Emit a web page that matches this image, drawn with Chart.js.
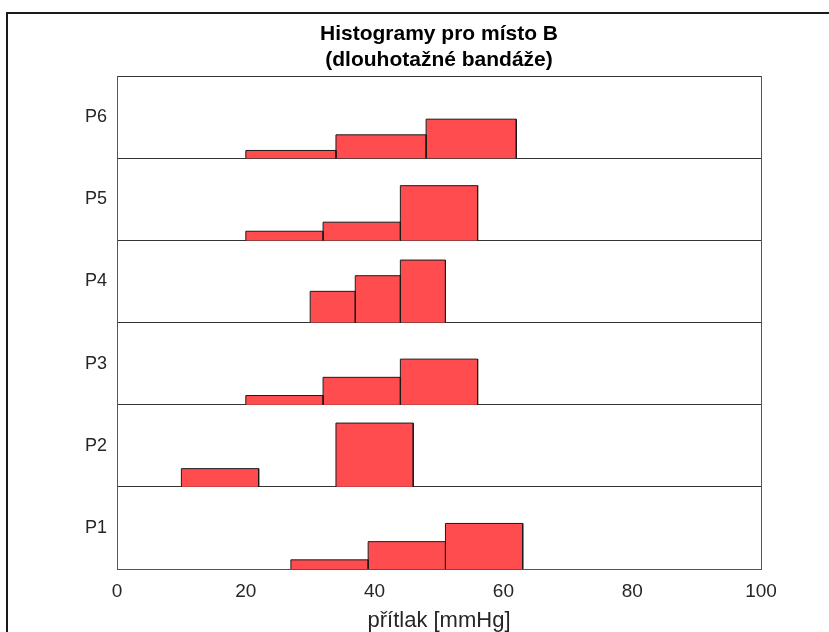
<!DOCTYPE html>
<html>
<head>
<meta charset="utf-8">
<script src="https://cdn.jsdelivr.net/npm/chart.js@4/dist/chart.umd.min.js"></script>
<style>
  html, body { margin: 0; padding: 0; background: #fff; overflow: hidden; }
  #frame { position: absolute; left: 6px; top: 12px; width: 900px; height: 700px; border: 2px solid #1a1a1a; }
  #wrap { position: absolute; left: 0; top: 0; width: 829px; height: 632px; }
</style>
</head>
<body>
<div id="frame"></div>
<div id="wrap"><canvas id="c" width="829" height="632"></canvas></div>
<script>
// Strip labels, bottom to top
const rowLabels = ['P1', 'P2', 'P3', 'P4', 'P5', 'P6'];

// Bin edges [mmHg] and probability densities for each strip
const edgesP1 = [27, 39, 51, 63];
const densP1  = [0.0093, 0.0278, 0.0463];
const edgesP2 = [10, 22, 34, 46];
const densP2  = [0.0185, 0, 0.0648];
const edgesP3 = [20, 32, 44, 56];
const densP3  = [0.0093, 0.0278, 0.0463];
const edgesP4 = [30, 37, 44, 51];
const densP4  = [0.0317, 0.0476, 0.0635];
const edgesP5 = [20, 32, 44, 56];
const densP5  = [0.0093, 0.0185, 0.0556];
const edgesP6 = [20, 34, 48, 62];
const densP6  = [0.0079, 0.0238, 0.0397];

const xTicks = [0, 20, 40, 60, 80, 100];

// Height of one strip in density units
const ROW = 0.0835;

const allEdges = [edgesP1, edgesP2, edgesP3, edgesP4, edgesP5, edgesP6];
const allDens  = [densP1, densP2, densP3, densP4, densP5, densP6];

const FILL = '#FF4D4F';
const EDGE = '#1a1a1a';

// One rectangle per bin (left edge, top, right edge), filled down to the strip baseline
const datasets = [];
allEdges.forEach((edges, r) => {
  const base = r * ROW;
  allDens[r].forEach((d, k) => {
    if (d <= 0) return;
    const x0 = edges[k], x1 = edges[k + 1], top = base + d;
    datasets.push({
      label: rowLabels[r] + ' ' + x0 + '-' + x1,
      data: [
        { x: x0, y: base }, { x: x0, y: top },
        { x: x1, y: top }, { x: x1, y: base }
      ],
      borderColor: EDGE,
      borderWidth: 1,
      backgroundColor: FILL,
      fill: { value: base },
      pointRadius: 0,
      tension: 0,
      borderJoinStyle: 'miter',
      clip: false
    });
  });
});

const FONT = "'Liberation Sans', Arial, Helvetica, sans-serif";
const TXT = '#262626';

new Chart(document.getElementById('c'), {
  type: 'line',
  data: { datasets },
  options: {
    responsive: false,
    animation: false,
    events: [],
    layout: { padding: { left: 49, right: 0, top: 0, bottom: 0 } },
    plugins: {
      legend: { display: false },
      tooltip: { enabled: false },
      title: {
        display: true,
        text: ['Histogramy pro místo B', '(dlouhotažné bandáže)'],
        color: '#000',
        font: { family: FONT, size: 21, weight: 'bold', lineHeight: 1.24 },
        padding: { top: 21, bottom: 3 }
      }
    },
    scales: {
      x: {
        type: 'linear',
        min: 0, max: 100,
        afterBuildTicks: s => { s.ticks = xTicks.map(v => ({ value: v })); },
        afterFit: s => { s.height = 63; },
        grid: { display: false, drawTicks: false },
        border: { display: true, color: '#555', width: 1 },
        ticks: { color: TXT, padding: 11, font: { family: FONT, size: 19 }, maxRotation: 0 },
        title: {
          display: true,
          text: 'přítlak [mmHg]',
          color: TXT,
          font: { family: FONT, size: 22, lineHeight: 1.0 },
          padding: { top: 0, bottom: 0 }
        }
      },
      y: {
        type: 'linear',
        position: 'left',
        min: 0, max: 6 * ROW,
        afterBuildTicks: s => { s.ticks = rowLabels.map((_, i) => ({ value: (i + 0.5) * ROW })); },
        afterFit: s => { s.width = 68; },
        grid: { display: false, drawTicks: false },
        border: { display: true, color: '#555', width: 1 },
        ticks: {
          autoSkip: false,
          color: TXT,
          padding: 10,
          font: { family: FONT, size: 18 },
          callback: (v, i) => rowLabels[i]
        }
      },
      rows: {
        type: 'linear',
        position: 'right',
        min: 0, max: 6 * ROW,
        afterBuildTicks: s => { s.ticks = [0, 1, 2, 3, 4, 5, 6].map(i => ({ value: i * ROW })); },
        afterFit: s => { s.width = 68; },
        grid: { display: true, drawTicks: false, color: '#333', lineWidth: 1 },
        border: { display: true, color: '#555', width: 1 },
        ticks: { display: false }
      }
    }
  }
});
</script>
</body>
</html>
